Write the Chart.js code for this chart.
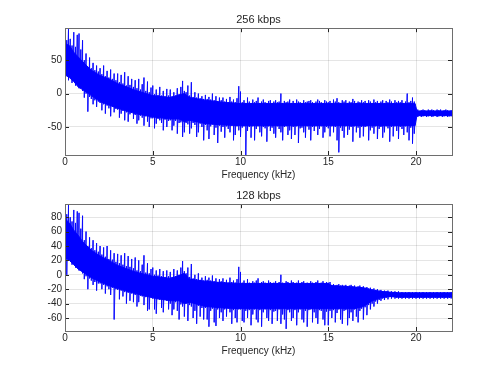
<!DOCTYPE html>
<html>
<head>
<meta charset="utf-8">
<script src="https://cdn.jsdelivr.net/npm/chart.js@4/dist/chart.umd.min.js"></script>
<style>
  body { margin: 0; background: #fff; }
  .plot { position: absolute; left: 0; width: 500px; height: 188px; }
</style>
</head>
<body>
<div class="plot" style="top:0"><canvas id="top" width="500" height="188"></canvas></div>
<div class="plot" style="top:176px"><canvas id="bottom" width="500" height="188"></canvas></div>
<script>
// x axis
const xTicks = [0, 5, 10, 15, 20];
const xMax = 22.05;
const spikeStep = 0.1; // spike samples every 0.1 kHz from 0, one row = 1 kHz

// ---- 256 kbps ----
const topYTicks = [-50, 0, 50];
const topBandFreq  = [0, 0.25, 0.5, 0.75, 1, 1.5, 2, 2.5, 3, 4, 5, 6, 6.5, 6.8, 7.1, 8, 9, 10, 12, 15, 18, 19.95, 20.05, 22.05];
const topBandUpper = [75, 72, 62, 55, 48, 35, 27, 22, 15, 5, -3, -6, -2, 0, -6, -10, -13, -15, -15, -15, -15, -15, -26, -26];
const topBandLower = [28, 24, 18, 10, 6, -3, -12, -17, -22, -30, -35, -38, -38, -42, -40, -45, -47, -48, -48, -48, -48, -48, -33, -33];
const topSpikeHi = [
  88, 80, 98, 82, 72, 92, 70, 88, 90, 66,
  80, 50, 60, 40, 54, 38, 46, 35, 42, 33,
  38, 29, 42, 26, 34, 24, 36, 22, 30, 20,
  30, 17, 28, 15, 32, 12, 26, 13, 22, 10,
  20, 8, 22, 6, 14, 24, 4, 18, 2, 9,
  12, -1, 6, -2, 10, -3, 4, -4, 7, -3,
  6, -4, 2, -3, 8, -1, 10, 19, 4, 2,
  12, -3, 17, -5, 2, -6, 0, -7, -4, -8,
  -2, -8, -5, -9, 0, -10, -4, -11, -6, -10,
  -6, -12, -8, -13, -5, -12, -9, -13, -7, 11,
  3, -13, -10, -14, -6, -12, -14, -9, -13, -11,
  -6, -14, -12, -9, -13, -14, -11, -10, -14, -12,
  -10, -13, -12, 0, -14, -11, -13, -12, -9, -14,
  -11, -14, -9, -12, -13, -14, -10, -13, -12, -11,
  -10, -13, -14, -12, -9, -11, -13, -14, -10, -12,
  -13, -11, -14, -9, -12, -7, -13, -14, -10, -12,
  -10, -14, -12, -13, -8, -11, -14, -12, -13, -10,
  -13, -11, -14, -10, -12, -14, -9, -13, -11, -14,
  -12, -10, -14, -11, -13, -9, -12, -14, -10, -13,
  -11, -13, -10, -14, -12, 0, -13, -11, -6, -12,
  -25, -24, -26, -25, -24, -25, -26, -24, -25, -24,
  -25, -26, -24, -25, -24, -26, -25, -24, -25, -26,
  -25
];
const topSpikeLo = [
  26, 30, 20, 24, 16, 22, 12, 18, 8, 10,
  4, -6, 0, -27, -5, -8, -16, -10, -20, -12,
  -14, -25, -16, -30, -18, -22, -34, -20, -28, -23,
  -24, -36, -30, -26, -40, -28, -42, -31, -27, -38,
  -32, -45, -40, -33, -36, -48, -34, -42, -50, -37,
  -37, -52, -45, -38, -40, -44, -55, -39, -50, -41,
  -40, -55, -48, -41, -60, -44, -43, -65, -58, -44,
  -46, -60, -52, -44, -47, -65, -58, -45, -50, -70,
  -47, -55, -68, -49, -46, -62, -51, -74, -48, -57,
  -50, -66, -49, -53, -58, -48, -70, -62, -49, -55,
  -65, -51, -49, -92, -56, -50, -66, -49, -70, -53,
  -49, -58, -64, -50, -52, -72, -49, -56, -51, -60,
  -66, -49, -53, -58, -70, -50, -49, -62, -55, -68,
  -50, -62, -49, -74, -52, -51, -58, -66, -49, -54,
  -70, -50, -56, -49, -62, -53, -49, -66, -58, -50,
  -52, -64, -49, -58, -50, -70, -88, -51, -56, -66,
  -49, -62, -54, -50, -72, -49, -58, -51, -66, -50,
  -64, -50, -49, -70, -55, -51, -60, -49, -68, -53,
  -50, -66, -58, -49, -52, -72, -50, -64, -49, -56,
  -68, -50, -53, -62, -49, -58, -70, -51, -75, -60,
  -34, -35, -33, -35, -34, -33, -35, -34, -33, -35,
  -34, -33, -35, -34, -33, -35, -34, -33, -35, -34,
  -34
];

// ---- 128 kbps ----
const botYTicks = [-60, -40, -20, 0, 20, 40, 60, 80];
const botBandFreq  = [0, 0.25, 0.5, 0.75, 1, 1.5, 2, 2.5, 3, 4, 5, 6, 6.5, 6.8, 7.1, 8, 9, 10, 12, 15, 15.2, 16.5, 17, 17.5, 18, 18.5, 19, 22.05];
const botBandUpper = [78, 72, 62, 55, 46, 34, 26, 20, 13, 4, -2, -5, -1, 2, -6, -9, -11, -12, -12, -12, -15, -17, -18, -21, -23, -24, -25, -25];
const botBandLower = [24, 20, 14, 8, 4, -4, -10, -15, -19, -26, -32, -36, -36, -40, -38, -44, -46, -47, -47, -47, -47, -47, -44, -36, -32, -30, -31, -31];
const botSpikeHi = [
  92, 84, 97, 80, 74, 90, 72, 88, 86, 64,
  82, 48, 60, 40, 52, 37, 48, 34, 44, 32,
  40, 28, 38, 25, 40, 22, 34, 21, 30, 18,
  29, 16, 27, 14, 30, 12, 26, 11, 22, 9,
  24, 6, 20, 5, 14, 27, 3, 16, 2, 8,
  10, 0, 6, -1, 8, -2, 5, -3, 6, -2,
  4, -3, 8, -2, 6, 0, 10, 19, 5, 2,
  10, -3, 15, -5, 0, -6, 2, -7, -4, -8,
  -2, -7, -4, -8, -1, -9, -5, -10, -6, -9,
  -5, -10, -7, -11, -4, -10, -8, -11, -6, 11,
  4, -11, -8, -12, -6, -11, -12, -9, -11, -8,
  -5, -12, -10, -9, -11, -12, -8, -10, -12, -11,
  -9, -12, -10, 0, -11, -12, -9, -10, -12, -8,
  -10, -12, -11, -8, -12, -10, -9, -12, -11, -12,
  -9, -11, -12, -10, -8, -12, -11, -9, -12, -10,
  -11, -10, -14, -13, -15, -14, -13, -15, -14, -15,
  -14, -16, -15, -14, -16, -15, -17, -16, -15, -17,
  -16, -18, -17, -19, -18, -20, -19, -21, -20, -22,
  -21, -23, -22, -23, -22, -24, -23, -24, -23, -24,
  -23, -25, -24, -25, -24, -25, -24, -25, -24, -25,
  -24, -25, -24, -25, -24, -25, -24, -25, -24, -25,
  -24, -25, -24, -25, -24, -25, -24, -25, -24, -25,
  -24
];
const botSpikeLo = [
  22, 0, 20, 26, 14, 20, 10, 16, 6, 8,
  2, -6, -2, -20, -5, -8, -14, -10, -22, -12,
  -12, -20, -14, -26, -16, -20, -28, -18, -62, -20,
  -21, -34, -22, -30, -24, -40, -25, -36, -26, -38,
  -28, -44, -38, -29, -30, -42, -31, -50, -48, -31,
  -33, -48, -54, -34, -35, -46, -52, -35, -36, -48,
  -40, -56, -48, -38, -50, -62, -41, -44, -58, -40,
  -64, -42, -44, -60, -50, -68, -43, -58, -46, -62,
  -46, -62, -72, -50, -47, -66, -71, -48, -60, -52,
  -64, -48, -58, -47, -52, -68, -49, -60, -66, -48,
  -48, -64, -66, -50, -60, -49, -70, -55, -48, -62,
  -66, -49, -72, -52, -48, -60, -64, -49, -68, -51,
  -50, -64, -48, -68, -55, -62, -75, -49, -52, -64,
  -60, -49, -70, -52, -48, -62, -66, -50, -72, -49,
  -48, -66, -52, -60, -68, -49, -50, -62, -70, -51,
  -70, -50, -60, -49, -66, -53, -48, -62, -68, -50,
  -49, -70, -60, -52, -64, -48, -58, -66, -50, -47,
  -62, -45, -56, -42, -48, -40, -44, -37, -40, -35,
  -36, -33, -35, -32, -34, -31, -33, -31, -33, -32,
  -33, -32, -33, -32, -33, -32, -33, -32, -33, -32,
  -33, -32, -33, -32, -33, -32, -33, -32, -33, -32,
  -33, -32, -33, -32, -33, -32, -33, -32, -33, -32,
  -33
];

const axisColor = '#262626';
const fontFamily = '"Liberation Sans", Arial, sans-serif';

// box + inward tick marks, matlab style
const boxPlugin = {
  id: 'box',
  afterDraw(chart) {
    const ctx = chart.ctx;
    const a = chart.chartArea;
    const len = 4;
    ctx.save();
    ctx.strokeStyle = axisColor;
    ctx.lineWidth = 1;
    ctx.beginPath();
    chart.scales.x.ticks.forEach(t => {
      const px = Math.round(chart.scales.x.getPixelForValue(t.value)) + 0.5;
      ctx.moveTo(px, a.bottom); ctx.lineTo(px, a.bottom - len);
      ctx.moveTo(px, a.top); ctx.lineTo(px, a.top + len);
    });
    chart.scales.y.ticks.forEach(t => {
      const py = Math.round(chart.scales.y.getPixelForValue(t.value)) + 0.5;
      ctx.moveTo(a.left, py); ctx.lineTo(a.left + len, py);
      ctx.moveTo(a.right, py); ctx.lineTo(a.right - len, py);
    });
    ctx.stroke();
    ctx.strokeStyle = '#6e6e6e';
    ctx.strokeRect(Math.round(a.left) + 0.5, Math.round(a.top) + 0.5,
      Math.round(a.right - a.left), Math.round(a.bottom - a.top));
    ctx.restore();
  }
};

function spikePoints(hi, lo) {
  const pts = [];
  for (let i = 0; i < hi.length; i++) {
    pts.push({ x: i * spikeStep, y: hi[i] });
    pts.push({ x: i * spikeStep, y: lo[i] });
  }
  return pts;
}

function makePlot(id, title, bandFreq, upper, lower, hi, lo, yMin, yMax, yTicks) {
  const tickFont = { family: fontFamily, size: 10, lineHeight: 1.1 };
  new Chart(document.getElementById(id), {
    type: 'line',
    data: {
      datasets: [
        {
          data: bandFreq.map((f, i) => ({ x: f, y: upper[i] })),
          borderColor: '#0000ff', borderWidth: 1,
          backgroundColor: '#0000ff', fill: '+1', order: 2
        },
        {
          data: bandFreq.map((f, i) => ({ x: f, y: lower[i] })),
          borderColor: '#0000ff', borderWidth: 1, fill: false, order: 2
        },
        {
          data: spikePoints(hi, lo),
          borderColor: 'rgba(0,0,255,0.6)', borderWidth: 1, fill: false, order: 1
        }
      ]
    },
    options: {
      responsive: false,
      animation: false,
      events: [],
      elements: { point: { radius: 0 }, line: { tension: 0 } },
      layout: { padding: { top: 13, right: 48, bottom: 7, left: 0 } },
      plugins: {
        legend: { display: false },
        tooltip: { enabled: false },
        title: {
          display: true, text: title, fullSize: false, color: axisColor,
          font: { family: fontFamily, size: 11, weight: 'normal', lineHeight: 1.2 },
          padding: { top: 0, bottom: 2 }
        }
      },
      scales: {
        x: {
          type: 'linear', min: 0, max: xMax,
          afterBuildTicks: s => { s.ticks = xTicks.map(v => ({ value: v })); },
          grid: { color: 'rgba(0,0,0,0.1)', drawTicks: false },
          border: { display: false },
          ticks: { color: axisColor, font: tickFont, padding: 2, maxRotation: 0 },
          title: {
            display: true, text: 'Frequency (kHz)', color: axisColor,
            font: tickFont, padding: { top: 0, bottom: 0 }
          }
        },
        y: {
          min: yMin, max: yMax,
          afterBuildTicks: s => { s.ticks = yTicks.map(v => ({ value: v })); },
          afterFit: s => { s.width = 65; },
          grid: { color: 'rgba(0,0,0,0.1)', drawTicks: false },
          border: { display: false },
          ticks: { color: axisColor, font: tickFont, padding: 3 }
        }
      }
    },
    plugins: [boxPlugin]
  });
}

makePlot('top', '256 kbps', topBandFreq, topBandUpper, topBandLower, topSpikeHi, topSpikeLo, -92, 98, topYTicks);
makePlot('bottom', '128 kbps', botBandFreq, botBandUpper, botBandLower, botSpikeHi, botSpikeLo, -78, 98, botYTicks);
</script>
</body>
</html>
